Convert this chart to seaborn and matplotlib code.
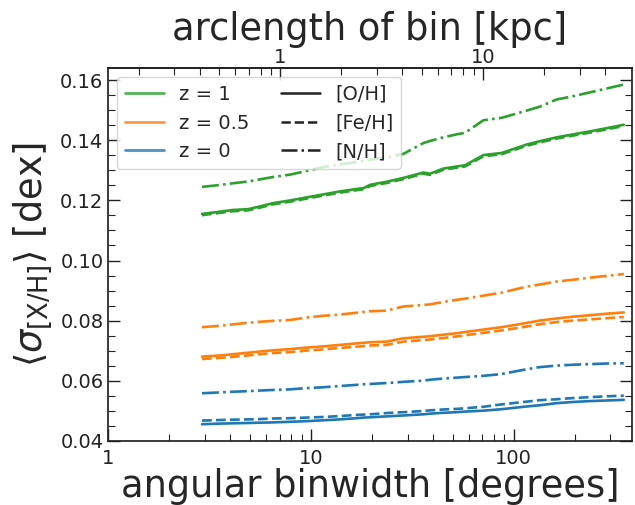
import numpy as np
import pandas as pd
import matplotlib.pyplot as plt
import seaborn as sns
from matplotlib.lines import Line2D
from matplotlib.ticker import MultipleLocator, FuncFormatter, NullFormatter, FixedLocator

sns.set_theme(style='ticks')
plt.rcParams['font.family'] = ['DejaVu Sans']
plt.rcParams['mathtext.fontset'] = 'dejavusans'

# angular bin widths [deg]
binwidth = [2.9, 3.6, 4.1, 4.9, 5.6, 6.5, 7.9, 9.5, 11.5, 13.9, 16.8, 18.2, 19.6, 23.6,
            28.6, 35.9, 38.7, 45, 52.4, 57.6, 71, 87.4, 116, 134.5, 163, 197, 239, 290, 350]

# z = 1
z1_oh = [0.1155, 0.1163, 0.1168, 0.1171, 0.1180, 0.1191, 0.1200, 0.1210, 0.1220, 0.1230,
         0.1238, 0.1241, 0.1252, 0.1262, 0.1275, 0.1293, 0.1289, 0.1306, 0.1313, 0.1317,
         0.1351, 0.1358, 0.1386, 0.1397, 0.1410, 0.1420, 0.1430, 0.1441, 0.1452]
z1_feh = [0.1151, 0.1159, 0.1164, 0.1167, 0.1176, 0.1187, 0.1196, 0.1206, 0.1216, 0.1226,
          0.1234, 0.1237, 0.1248, 0.1258, 0.1271, 0.1289, 0.1285, 0.1302, 0.1309, 0.1313,
          0.1347, 0.1354, 0.1382, 0.1393, 0.1406, 0.1416, 0.1426, 0.1437, 0.1448]
z1_nh = [0.1245, 0.1252, 0.1257, 0.1263, 0.1270, 0.1278, 0.1286, 0.1298, 0.1311, 0.1320,
         0.1328, 0.1332, 0.1336, 0.1343, 0.1355, 0.1391, 0.1398, 0.1410, 0.1420, 0.1425,
         0.1467, 0.1475, 0.1499, 0.1512, 0.1536, 0.1547, 0.1560, 0.1573, 0.1586]

# z = 0.5
z05_oh = [0.0680, 0.0684, 0.0688, 0.0693, 0.0697, 0.0701, 0.0705, 0.0710, 0.0714, 0.0719,
          0.0724, 0.0726, 0.0728, 0.0730, 0.0741, 0.0746, 0.0748, 0.0753, 0.0758, 0.0762,
          0.0770, 0.0778, 0.0792, 0.0800, 0.0807, 0.0813, 0.0818, 0.0823, 0.0827]
z05_feh = [0.0672, 0.0676, 0.0679, 0.0684, 0.0688, 0.0692, 0.0695, 0.0700, 0.0704, 0.0709,
           0.0713, 0.0715, 0.0717, 0.0719, 0.0730, 0.0735, 0.0737, 0.0742, 0.0747, 0.0751,
           0.0759, 0.0767, 0.0780, 0.0788, 0.0795, 0.0800, 0.0804, 0.0808, 0.0812]
z05_nh = [0.0778, 0.0783, 0.0787, 0.0793, 0.0796, 0.0799, 0.0802, 0.0810, 0.0816, 0.0820,
          0.0826, 0.0829, 0.0831, 0.0833, 0.0847, 0.0852, 0.0854, 0.0862, 0.0869, 0.0873,
          0.0883, 0.0893, 0.0913, 0.0920, 0.0930, 0.0936, 0.0943, 0.0949, 0.0955]

# z = 0
z0_oh = [0.0455, 0.0457, 0.0458, 0.0459, 0.0460, 0.0461, 0.0463, 0.0465, 0.0468, 0.0471,
         0.0475, 0.0477, 0.0478, 0.0481, 0.0484, 0.0488, 0.0490, 0.0493, 0.0495, 0.0497,
         0.0500, 0.0505, 0.0514, 0.0518, 0.0525, 0.0529, 0.0532, 0.0534, 0.0536]
z0_feh = [0.0467, 0.0469, 0.0470, 0.0471, 0.0472, 0.0474, 0.0475, 0.0477, 0.0479, 0.0482,
          0.0486, 0.0487, 0.0488, 0.0492, 0.0495, 0.0499, 0.0501, 0.0504, 0.0506, 0.0508,
          0.0513, 0.0521, 0.0530, 0.0535, 0.0538, 0.0542, 0.0545, 0.0548, 0.0550]
z0_nh = [0.0558, 0.0561, 0.0563, 0.0565, 0.0567, 0.0569, 0.0571, 0.0575, 0.0578, 0.0582,
         0.0586, 0.0588, 0.0589, 0.0592, 0.0596, 0.0600, 0.0603, 0.0607, 0.0610, 0.0612,
         0.0616, 0.0622, 0.0638, 0.0645, 0.0650, 0.0653, 0.0655, 0.0657, 0.0658]

redshifts = ['z = 1', 'z = 0.5', 'z = 0']
elements = ['[O/H]', '[Fe/H]', '[N/H]']
kpc_ticks = [1, 10]
colors = {'z = 1': '#2ca02c', 'z = 0.5': '#ff7f0e', 'z = 0': '#1f77b4'}
dashes = {'[O/H]': '', '[Fe/H]': (3.7, 1.6), '[N/H]': (6.4, 1.6, 1.0, 1.6)}

series = {
    ('z = 1', '[O/H]'): z1_oh, ('z = 1', '[Fe/H]'): z1_feh, ('z = 1', '[N/H]'): z1_nh,
    ('z = 0.5', '[O/H]'): z05_oh, ('z = 0.5', '[Fe/H]'): z05_feh, ('z = 0.5', '[N/H]'): z05_nh,
    ('z = 0', '[O/H]'): z0_oh, ('z = 0', '[Fe/H]'): z0_feh, ('z = 0', '[N/H]'): z0_nh,
}
rows = []
for (z, el), vals in series.items():
    for b, v in zip(binwidth, vals):
        rows.append({'binwidth': b, 'sigma': v, 'z': z, 'element': el})
df = pd.DataFrame(rows)

# distance used to turn degrees into arclength [kpc]
R0 = 8.122


def deg2kpc(d):
    return np.asarray(d) * np.pi / 180.0 * R0


def kpc2deg(k):
    return np.asarray(k) * 180.0 / np.pi / R0


fig = plt.figure(figsize=(6.35, 5.05), dpi=100)
ax = fig.add_axes([0.1706, 0.1273, 0.8242, 0.7375])

sns.lineplot(data=df, x='binwidth', y='sigma', hue='z', style='element',
             hue_order=redshifts, style_order=elements, palette=colors,
             dashes=dashes, linewidth=1.9, errorbar=None, legend=False, ax=ax)

ax.set_xscale('log')
ax.set_xlim(1, 383)
ax.set_ylim(0.04, 0.164)
ax.yaxis.set_major_locator(MultipleLocator(0.02))
ax.yaxis.set_minor_locator(MultipleLocator(0.005))
ax.yaxis.set_major_formatter(FuncFormatter(lambda v, p: f'{v:.2f}'))
ax.xaxis.set_major_formatter(FuncFormatter(lambda v, p: f'{v:g}'))
ax.xaxis.set_minor_formatter(NullFormatter())
ax.tick_params(which='both', direction='in', top=False, right=True, labelsize=14, colors='#222222')
ax.tick_params(which='major', length=8.5, width=1)
ax.tick_params(which='minor', length=5, width=0.8)
ax.tick_params(axis='x', which='major', pad=6)
for s in ax.spines.values():
    s.set_color('#222222')

ax.set_xlabel('angular binwidth [degrees]', fontsize=26.5, labelpad=0)
ax.set_ylabel(r'$\langle\sigma_{\rm [X/H]}\rangle$ [dex]', fontsize=26.5, labelpad=4)

top = ax.secondary_xaxis('top', functions=(deg2kpc, kpc2deg))
top.xaxis.set_major_locator(FixedLocator(kpc_ticks))
top.xaxis.set_minor_locator(FixedLocator([0.2, 0.3, 0.4, 0.5, 0.6, 0.7, 0.8, 0.9,
                                          2, 3, 4, 5, 6, 7, 8, 9, 20, 30, 40]))
top.xaxis.set_major_formatter(FuncFormatter(lambda v, p: f'{v:g}'))
top.xaxis.set_minor_formatter(NullFormatter())
top.tick_params(which='both', direction='in', labelsize=14, colors='#222222')
top.tick_params(which='major', length=8.5, width=1, pad=1)
top.tick_params(which='minor', length=5, width=0.8)
top.set_xlabel('arclength of bin [kpc]', fontsize=26.5, labelpad=6)

handles = []
labels = []
for z in redshifts:
    handles.append(Line2D([], [], color=colors[z], lw=2, alpha=0.8))
    labels.append(z)
for el in elements:
    handles.append(Line2D([], [], color='#222222', lw=1.8,
                          dashes=dashes[el] if dashes[el] else (None, None)))
    labels.append(el)
leg = ax.legend(handles, labels, ncol=2, loc='upper left', fontsize=14,
                frameon=True, framealpha=0.8, edgecolor='#cccccc',
                borderaxespad=0.45, columnspacing=1.6, handlelength=2.0)

fig.savefig('out.png', dpi=100)
